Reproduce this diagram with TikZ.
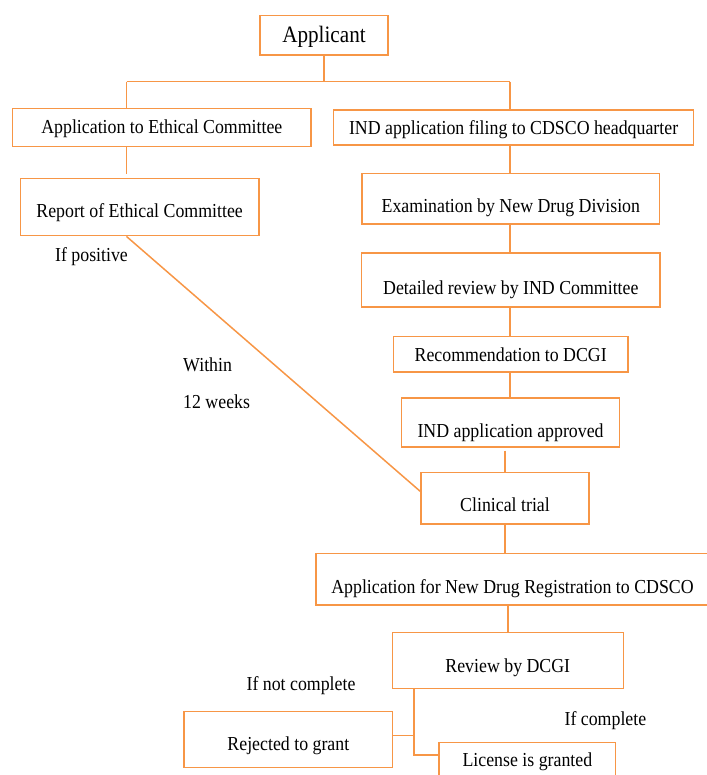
\documentclass[tikz,border=0pt]{standalone}
\usepackage{fontspec}
\setmainfont{Liberation Serif}[FakeStretch=0.9]
\definecolor{boxorange}{HTML}{F79646}
\tikzset{
    box/.style={draw=boxorange, line width=1.5pt, inner sep=0pt, text depth=0pt, font=\fontsize{19.8}{22}\selectfont},
    link/.style={draw=boxorange, line width=1.5pt},
    note/.style={inner sep=0pt, anchor=base, font=\fontsize{19.8}{22}\selectfont}
}

\begin{document}
\begin{tikzpicture}[x=1pt, y=-1pt]
        \useasboundingbox (0,0) rectangle (706,775);
        % Below nodes are the boxes.
            \node[box, minimum width=128pt, minimum height=39.3pt, text height=14.8pt, font=\fontsize{23.5}{26}\selectfont] (app) at (324,35.35) {Applicant};
            \node[box, minimum width=298.3pt, minimum height=38.4pt, text height=13pt] (ethics) at (161.85,127.5) {Application to Ethical Committee};
            \node[box, minimum width=360.2pt, minimum height=35pt, text height=14pt] (filing) at (513.6,127.5) {IND application filing to CDSCO headquarter};
            \node[box, minimum width=238.4pt, minimum height=57.4pt, text height=20.6pt] (report) at (139.6,207) {Report of Ethical Committee};
            \node[box, minimum width=297.7pt, minimum height=50.7pt, text height=27.2pt] (exam) at (510.85,198.65) {Examination by New Drug Division};
            \node[box, minimum width=298.4pt, minimum height=54.1pt, text height=28.8pt] (detail) at (510.8,279.95) {Detailed review by IND Committee};
            \node[box, minimum width=234.4pt, minimum height=35.7pt, text height=15.6pt] (recom) at (510.7,354.15) {Recommendation to DCGI};
            \node[box, minimum width=217.7pt, minimum height=48.6pt, text height=29.6pt] (approved) at (510.55,422.5) {IND application approved};
            \node[box, minimum width=168pt, minimum height=51.3pt, text height=26.7pt] (trial) at (505,498.35) {Clinical trial};
            \node[box, minimum width=393pt, minimum height=51.7pt, text height=28.6pt] (newdrug) at (512.5,579.15) {Application for New Drug Registration to CDSCO};
            \node[box, minimum width=231pt, minimum height=56pt, text height=23.4pt] (review) at (507.8,660.3) {Review by DCGI};
            \node[box, minimum width=208.7pt, minimum height=56pt, text height=22pt] (reject) at (288.35,739.7) {Rejected to grant};
            \node[box, minimum width=176.7pt, minimum height=48pt, text height=0pt] (license) at (527.35,766.7) {License is granted};
        % These are the split points of the connectors.
            \coordinate (splitL) at (126.5,81.7);
            \coordinate (splitR) at (510,81.7);
            \coordinate (bend) at (414,755);
        % Connectors between the boxes.
            \draw[link] (app.south) -- (app.south |- splitL);
            \draw[link] (splitL) -- (splitR);
            \draw[link] (splitL) -- (splitL |- ethics.north);
            \draw[link] (splitR) -- (splitR |- filing.north);
            \draw[link] (ethics.south -| splitL) -- ([yshift=4pt]report.north -| splitL);
            \draw[link] (report.south -| splitL) -- ([yshift=7pt]trial.west);
            \draw[link] (filing.south -| splitR) -- (exam.north -| splitR);
            \draw[link] (exam.south -| splitR) -- (detail.north -| splitR);
            \draw[link] (detail.south -| splitR) -- (recom.north -| splitR);
            \draw[link] (recom.south -| splitR) -- (approved.north -| splitR);
            \draw[link] ([yshift=-3pt]approved.south -| trial.north) -- (trial.north);
            \draw[link] (trial.south) -- (trial.south |- newdrug.north);
            \draw[link] (review.north |- newdrug.south) -- (review.north);
            \draw[link] (review.south -| bend) -- (bend) -- (bend -| license.west);
            \draw[link] ([yshift=4pt]reject.east) -- ([yshift=4pt]reject.east -| bend);
        % Below nodes are the labels.
            \node[note] (positive) at (91.5,261.7) {If positive};
            \node[note, anchor=base west] (within) at (183,371) {Within};
            \node[note, anchor=base west] (weeks) at (183,408.4) {12 weeks};
            \node[note] (notdone) at (301,690.7) {If not complete};
            \node[note] (done) at (605.4,725) {If complete};
    \end{tikzpicture}
\end{document}
